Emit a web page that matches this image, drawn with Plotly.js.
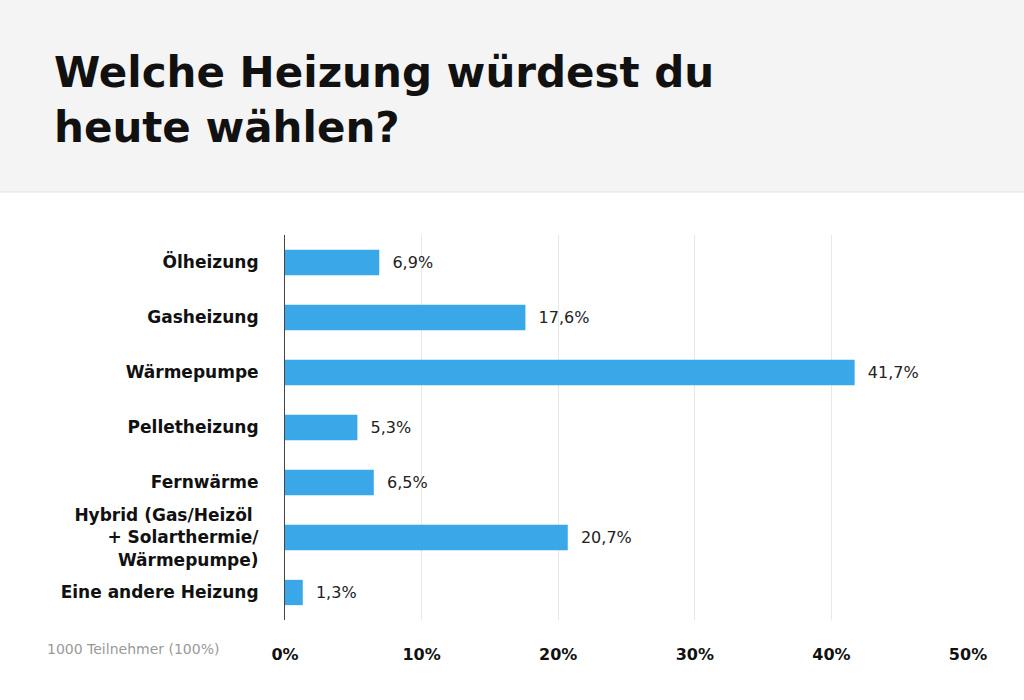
<!DOCTYPE html>
<html>
<head>
<meta charset="utf-8">
<script src="https://cdn.plot.ly/plotly-3.0.1.min.js"></script>
<style>html,body{margin:0;padding:0;background:#fff}#chart{width:1024px;height:700px}</style>
</head>
<body>
<div id="chart"></div>
<script>
const categories = ['Ölheizung', 'Gasheizung', 'Wärmepumpe', 'Pelletheizung', 'Fernwärme',
  'Hybrid (Gas/Heizöl <br>+ Solarthermie/<br>Wärmepumpe)', 'Eine andere Heizung'];
const shares = [6.9, 17.6, 41.7, 5.3, 6.5, 20.7, 1.3];
const xTicks = [0, 10, 20, 30, 40, 50];
const xTickText = ['0%', '10%', '20%', '30%', '40%', '50%'];

const L = 285, R = 56, T = 235, B = 80, W = 1024, H = 700;
const pw = W - L - R, ph = H - T - B;
const px = x => (x - L) / pw;
const py = y => (H - B - y) / ph;
const FONT = 'DejaVu Sans';

Plotly.newPlot('chart', [{
  type: 'bar',
  orientation: 'h',
  x: shares,
  y: categories,
  width: 0.46,
  marker: { color: '#3aa8e8' },
  texttemplate: '  %{x:.1f}%',
  textposition: 'outside',
  cliponaxis: false,
  textfont: { family: FONT, size: 16, color: '#222' },
  hoverinfo: 'none'
}], {
  width: W, height: H,
  separators: ',.',
  margin: { l: L, r: R, t: T, b: B },
  paper_bgcolor: '#fff',
  plot_bgcolor: '#fff',
  showlegend: false,
  font: { family: FONT, color: '#111' },
  xaxis: {
    range: [0, 50],
    tickvals: xTicks,
    ticktext: xTickText,
    tickfont: { family: FONT, size: 16, color: '#111', weight: 'bold' },
    showgrid: true,
    gridcolor: '#e8e8e8',
    zeroline: false,
    showline: false,
    ticks: 'outside', ticklen: 20, tickcolor: 'rgba(0,0,0,0)',
    fixedrange: true
  },
  yaxis: {
    autorange: 'reversed',
    tickfont: { family: FONT, size: 17, color: '#111', weight: 'bold' },
    showline: true, linecolor: '#444', linewidth: 1,
    ticks: 'outside', ticklen: 22, tickcolor: 'rgba(0,0,0,0)',
    fixedrange: true
  },
  shapes: [{
    type: 'rect', xref: 'paper', yref: 'paper', layer: 'below',
    x0: px(0), x1: px(W), y0: py(192), y1: py(0),
    fillcolor: '#f4f4f4', line: { width: 0 }
  }, {
    type: 'line', xref: 'paper', yref: 'paper',
    x0: px(0), x1: px(W), y0: py(192), y1: py(192),
    line: { color: '#e4e4e4', width: 1 }
  }],
  annotations: [{
    xref: 'paper', yref: 'paper', x: px(52), y: py(46),
    xanchor: 'left', yanchor: 'top', align: 'left', showarrow: false,
    text: 'Welche Heizung würdest du<br>heute wählen?',
    font: { family: FONT, size: 42, color: '#111', weight: 'bold' }
  }, {
    xref: 'paper', yref: 'paper', x: px(45), y: py(649),
    xanchor: 'left', yanchor: 'middle', showarrow: false,
    text: '1000 Teilnehmer (100%)',
    font: { family: FONT, size: 14, color: '#999' }
  }]
}, { staticPlot: true });
</script>
</body>
</html>
